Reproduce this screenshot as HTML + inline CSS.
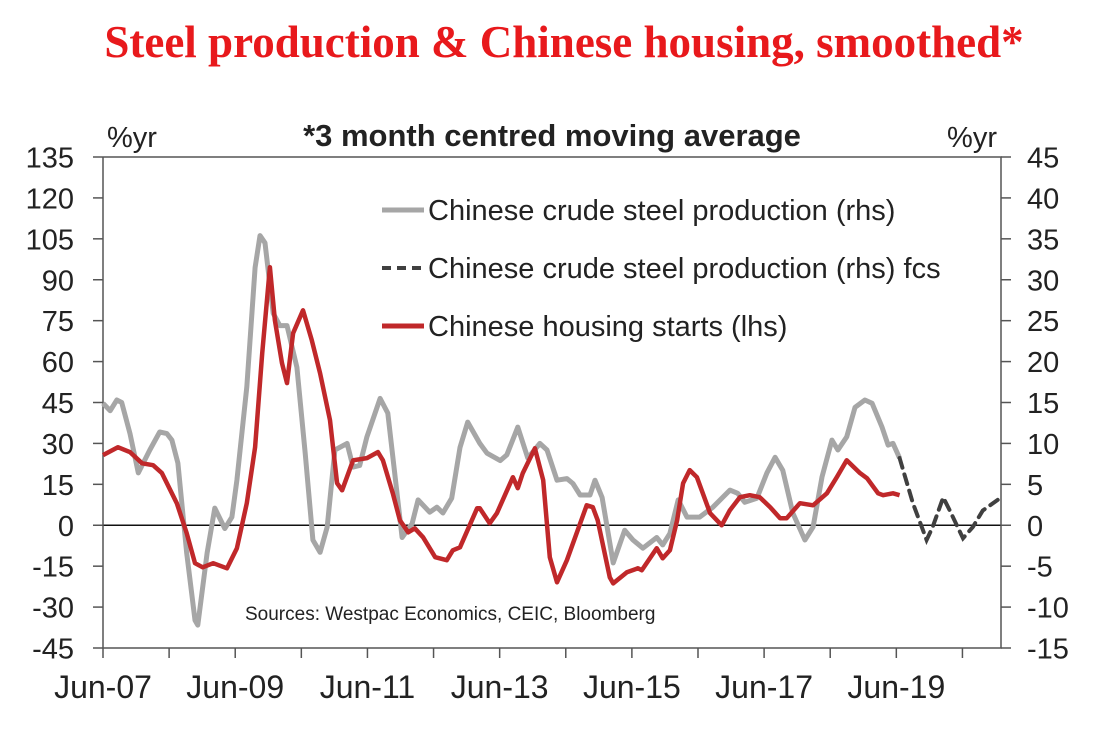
<!DOCTYPE html>
<html><head><meta charset="utf-8"><style>
body{margin:0;background:#fff;width:1106px;height:732px;overflow:hidden}
svg{display:block}
</style></head><body>
<svg id="chart" width="1106" height="732" font-family="Liberation Sans, Arial, sans-serif">
<text x="564" y="57" text-anchor="middle" font-family="Liberation Serif, serif" font-weight="bold" font-size="45" fill="#e8191c">Steel production &amp; Chinese housing, smoothed*</text>
<text x="552" y="146" text-anchor="middle" font-weight="bold" font-size="31" fill="#222">*3 month centred moving average</text>
<text x="107" y="147" font-size="29" fill="#222">%yr</text>
<text x="997" y="147" text-anchor="end" font-size="29" fill="#222">%yr</text>
<g id="axes"></g>
<g id="series"></g>
<g>
<line x1="382" y1="210" x2="424" y2="210" stroke="#a6a6a6" stroke-width="5"/>
<text x="428" y="220" font-size="29" fill="#222">Chinese crude steel production (rhs)</text>
<line x1="382" y1="268" x2="424" y2="268" stroke="#404040" stroke-width="4" stroke-dasharray="9,6"/>
<text x="428" y="278" font-size="29" fill="#222">Chinese crude steel production (rhs) fcs</text>
<line x1="382" y1="326" x2="424" y2="326" stroke="#c0282a" stroke-width="5"/>
<text x="428" y="336" font-size="29" fill="#222">Chinese housing starts (lhs)</text>
</g>
<text x="245" y="620" font-size="19" fill="#222">Sources: Westpac Economics, CEIC, Bloomberg</text>
</svg>
<script>
// months since Jun-07
const housingMonths=[0,2.7,4.9,7.1,9.1,10.7,13.4,15.2,16.7,18.1,20,22.5,24.3,26.1,27.6,28.9,30.3,31.2,32.5,33.4,34.5,36.3,37.9,39.4,41.2,42.5,43.4,45.4,47.9,49.9,50.8,52.6,53.9,55.4,56.6,58.1,60.3,62.4,63.5,64.8,67.9,68.4,70.2,71.5,74.4,75.3,76.2,78.4,79.9,81.1,82.4,84.2,87.8,88.9,89.8,92,92.6,95.1,97.1,97.8,100.5,101.6,102.9,104.2,105.3,106.5,107.8,110.2,112.3,113.8,115.6,117.4,119.2,121.1,122.9,124.1,126.5,128.9,131.4,133.2,135,137.4,138.7,140.7,141.6,143.4,144.6];
const housingValues=[25.7,28.6,26.8,22.7,22,19.1,8.1,-2.9,-13.9,-15.4,-13.9,-15.8,-8.4,8.1,28.6,63,94.6,75.1,59.4,52.1,70.4,78.8,67.8,55.7,38.5,15.4,12.8,23.8,24.6,26.8,23.8,11.7,1.8,-2.6,-1.1,-4.4,-11.7,-12.8,-9.2,-8.1,6.2,6.2,0.7,4.4,17.6,13.6,19.1,28.2,16.5,-11.7,-20.9,-12.8,7.3,6.6,1.8,-19.1,-21.3,-17.2,-15.8,-16.5,-8.4,-12.1,-9.2,1.8,15.4,20.2,17.6,4.4,0,5.5,10.3,11,10.3,6.6,2.6,2.6,8.1,7.3,11.7,17.6,23.8,19.1,17.2,11.7,11,11.7,11];
const steelMonths=[0,1.3,2.5,3.4,4.9,6.4,8.5,10.3,11.6,12.5,13.6,15.2,16.7,17.2,18.9,20.3,22.1,23.4,24.3,26.1,27.6,28.5,29.4,30.9,32.1,33.4,35.2,36.7,38.1,39.4,40.7,42.1,44.3,45.4,46.6,47.9,50.3,51.7,54.3,56.1,57.2,59.3,60.6,61.7,63.3,64.8,66.2,68.4,69.7,72.1,73.3,75.3,77.1,79.3,80.6,82.4,84.2,85.3,86.6,88.4,89.3,90.6,92.6,94.7,96.2,98,100.5,101.6,102.9,104.4,106,108.3,110.7,113.8,115.2,116.5,118.7,120.5,122,123.4,125.2,127.4,128.9,130.5,132.3,133.4,135,136.5,138.3,139.6,141.4,142.5,143.4,144.6];
const steelValues=[14.9,14,15.3,15,11.2,6.4,9.2,11.4,11.2,10.4,7.6,-3.4,-11.6,-12.2,-3.4,2.1,-0.4,1,5.5,16.9,31.5,35.4,34.5,25.9,24.4,24.4,19.3,8.8,-1.8,-3.3,-0.2,9.2,10,7.1,7.3,10.8,15.5,13.7,-1.5,0.2,3.1,1.6,2.2,1.5,3.3,9.5,12.6,10,8.8,7.9,8.6,12,8.2,10,9.2,5.5,5.7,5.1,3.7,3.7,5.5,3.4,-4.6,-0.6,-1.8,-2.8,-1.5,-2.4,-1,3.1,1,1,2.2,4.3,3.9,2.8,3.3,6.4,8.3,6.7,1.5,-1.8,-0.2,5.9,10.4,9.2,10.8,14.4,15.3,14.9,12,9.8,10,8.2];
const forecastMonths=[144.6,147,149.5,150.6,152.5,153.7,156.1,157.9,159.7,162.4];
const forecastValues=[8.2,2.7,-1.8,-0.2,3.4,1.8,-1.6,-0.2,1.8,3.1];
const leftTicks=[135,120,105,90,75,60,45,30,15,0,-15,-30,-45];
const rightTicks=[45,40,35,30,25,20,15,10,5,0,-5,-10,-15];
const xLabels=["Jun-07","Jun-09","Jun-11","Jun-13","Jun-15","Jun-17","Jun-19"];

const X0=103,X1=1001,YT=157,YB=648;
const xs=m=>X0+m*(X1-X0)/163;
const yl=v=>YB-(v+45)*(YB-YT)/180;
const yr=v=>YB-(v+15)*(YB-YT)/60;
const NS="http://www.w3.org/2000/svg";
function mk(tag,attrs,parent){const e=document.createElementNS(NS,tag);for(const k in attrs)e.setAttribute(k,attrs[k]);parent.appendChild(e);return e;}
const ax=document.getElementById('axes'),sr=document.getElementById('series');
let e;
e=mk('line',{x1:X0,y1:yl(0),x2:X1,y2:yl(0),stroke:'#111','stroke-width':1.5},ax);


e=mk('path',{d:`M${X0},${YT}V${YB}H${X1}V${YT}H${X0}`,fill:'none',stroke:'#555','stroke-width':1.5},ax);


leftTicks.forEach(v=>{
  mk('line',{x1:X0-10,y1:yl(v),x2:X0,y2:yl(v),stroke:'#555','stroke-width':1.5},ax);
  e=mk('text',{x:74,y:yl(v)+10.5,'text-anchor':'end','font-size':29,fill:'#222'},ax);
  e.textContent=v;
  
  
});
rightTicks.forEach(v=>{
  mk('line',{x1:X1,y1:yr(v),x2:X1+10,y2:yr(v),stroke:'#555','stroke-width':1.5},ax);
  e=mk('text',{x:1027,y:yr(v)+10.5,'font-size':29,fill:'#222'},ax);
  e.textContent=v;
  
  
});
for(let m=0;m<=162;m+=12){mk('line',{x1:xs(m),y1:YB,x2:xs(m),y2:YB+10,stroke:'#555','stroke-width':1.5},ax);}
xLabels.forEach((t,i)=>{
  e=mk('text',{x:xs(i*24),y:698,'text-anchor':'middle','font-size':32,fill:'#222'},ax);
  e.textContent=t;
  
  
});
function path(ms,vs,f){return ms.map((m,i)=>(i?'L':'M')+xs(m).toFixed(1)+','+f(vs[i]).toFixed(1)).join('');}
e=mk('path',{d:path(steelMonths,steelValues,yr),fill:'none',stroke:'#a6a6a6','stroke-width':5,'stroke-linejoin':'round'},sr);


e=mk('path',{d:path(forecastMonths,forecastValues,yr),fill:'none',stroke:'#404040','stroke-width':4,'stroke-dasharray':'10,7','stroke-linecap':'round'},sr);


e=mk('path',{d:path(housingMonths,housingValues,yl),fill:'none',stroke:'#c0282a','stroke-width':4.5,'stroke-linejoin':'round'},sr);


</script>
</body></html>
